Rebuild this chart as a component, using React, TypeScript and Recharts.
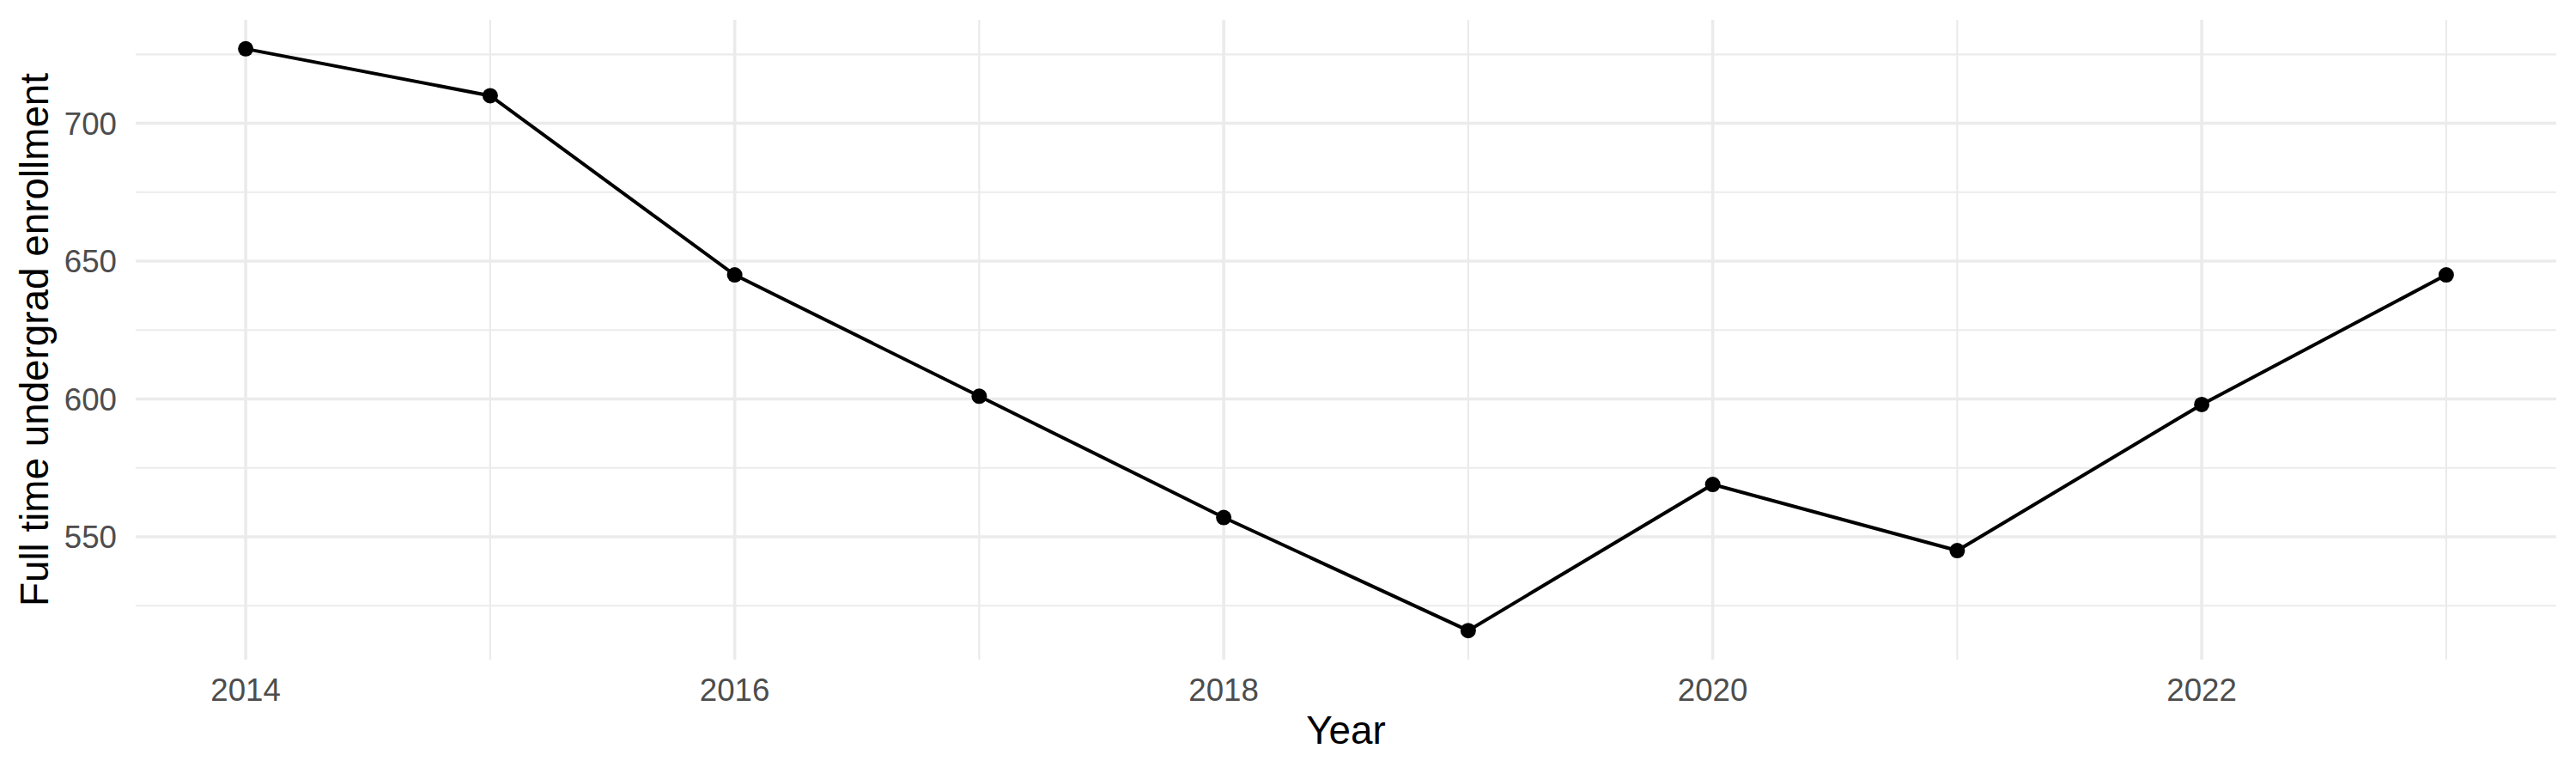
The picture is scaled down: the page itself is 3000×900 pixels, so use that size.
import React from 'react';
import {
  LineChart, Line, XAxis, YAxis, ReferenceLine, Label,
} from 'recharts';

const YEARS = [2014, 2015, 2016, 2017, 2018, 2019, 2020, 2021, 2022, 2023];
const ENROLLMENT = [727, 710, 645, 601, 557, 516, 569, 545, 598, 645];

const X_TICKS = [2014, 2016, 2018, 2020, 2022];
const X_MINOR = [2015, 2017, 2019, 2021, 2023];
const Y_TICKS = [550, 600, 650, 700];
const Y_MINOR = [525, 575, 625, 675, 725];

const data = YEARS.map((year, i) => ({ year, enrollment: ENROLLMENT[i] }));

// ggplot-style 5% expansion on both sides
const expand = (vals: number[]): [number, number] => {
  const lo = Math.min(...vals);
  const hi = Math.max(...vals);
  const pad = (hi - lo) * 0.05;
  return [lo - pad, hi + pad];
};

const FONT = '"Liberation Sans", Arial, Helvetica, sans-serif';
const GRID = '#EBEBEB';

export default function App() {
  return (
    <div style={{ width: 3000, height: 900, background: '#fff' }}>
      <style>{'body{margin:0}'}</style>
      <LineChart
        width={3000}
        height={900}
        data={data}
        margin={{ top: 23, right: 23, bottom: 0, left: 0 }}
        style={{ fontFamily: FONT }}
      >
        {/* minor grid first, major on top, like ggplot */}
        {X_MINOR.map((x) => (
          <ReferenceLine key={`vx${x}`} x={x} stroke={GRID} strokeWidth={2.2} />
        ))}
        {Y_MINOR.map((y) => (
          <ReferenceLine key={`hy${y}`} y={y} stroke={GRID} strokeWidth={2.2} />
        ))}
        {X_TICKS.map((x) => (
          <ReferenceLine key={`VX${x}`} x={x} stroke={GRID} strokeWidth={3.6} />
        ))}
        {Y_TICKS.map((y) => (
          <ReferenceLine key={`HY${y}`} y={y} stroke={GRID} strokeWidth={3.6} />
        ))}
        <XAxis
          dataKey="year"
          type="number"
          domain={expand(YEARS)}
          ticks={X_TICKS}
          axisLine={false}
          tickLine={false}
          tickSize={0}
          tickMargin={22}
          height={132}
          tick={{ fill: '#4D4D4D', fontSize: 36.7, fontFamily: FONT }}
        >
          <Label value="Year" position="insideTop" offset={65} fill="#000" fontSize={45.8} fontFamily={FONT} />
        </XAxis>
        <YAxis
          type="number"
          domain={expand(ENROLLMENT)}
          ticks={Y_TICKS}
          axisLine={false}
          tickLine={false}
          tickSize={0}
          tickMargin={22}
          width={158}
          tick={{ fill: '#4D4D4D', fontSize: 36.7, fontFamily: FONT }}
        >
          <Label
            value="Full time undergrad enrollment"
            angle={-90}
            position="insideLeft"
            offset={40}
            fill="#000"
            fontSize={45.8}
            fontFamily={FONT}
            style={{ textAnchor: 'middle' }}
          />
        </YAxis>
        <Line
          type="linear"
          dataKey="enrollment"
          stroke="#000"
          strokeWidth={4}
          dot={{ r: 9, fill: '#000', stroke: '#000', strokeWidth: 0 }}
          activeDot={false}
          isAnimationActive={false}
        />
      </LineChart>
    </div>
  );
}
